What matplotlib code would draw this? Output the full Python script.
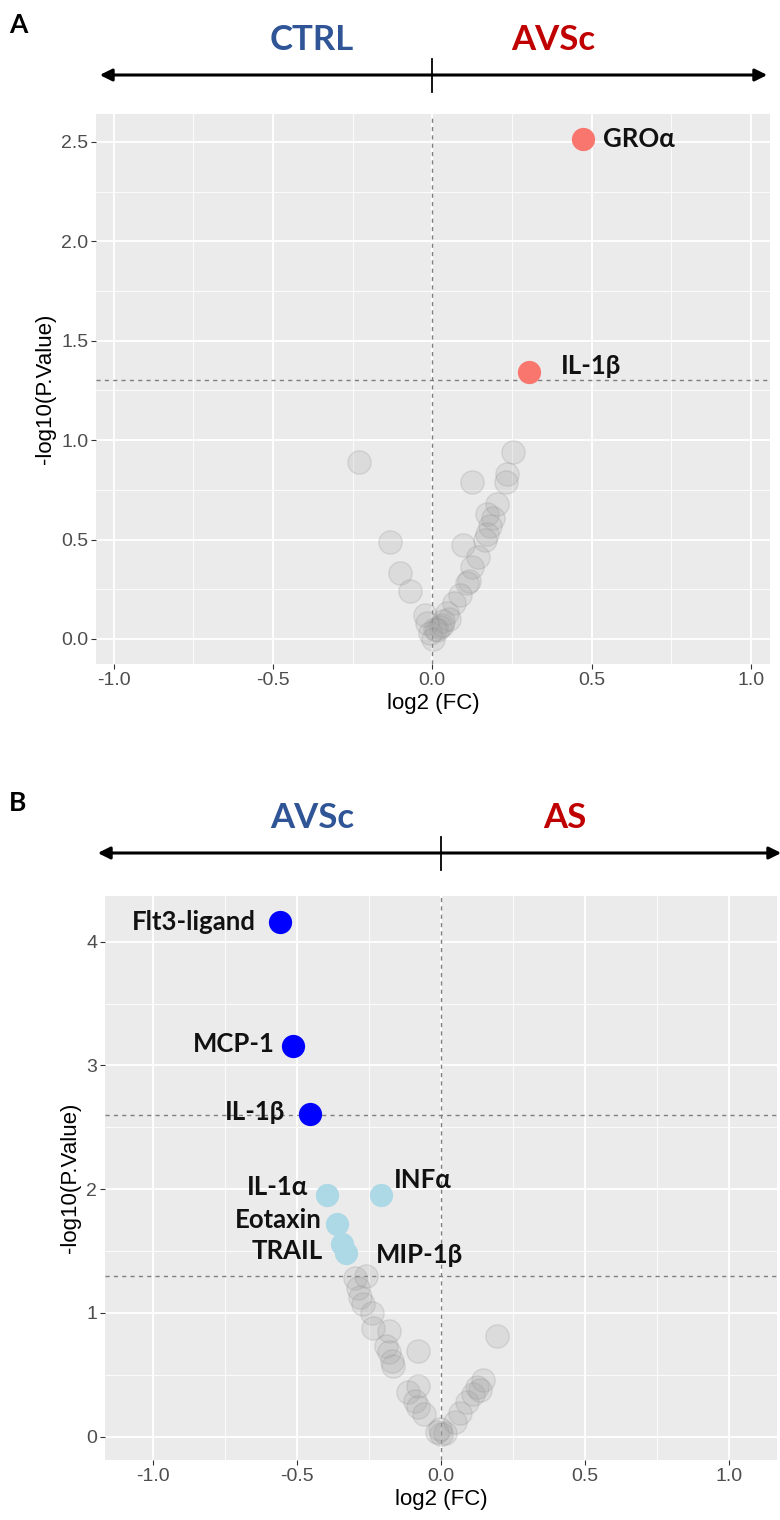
import matplotlib
matplotlib.use("Agg")
from matplotlib import pyplot as plt
from matplotlib.patches import FancyArrowPatch
from matplotlib.lines import Line2D
import numpy as np

# ---- panel A data (CTRL vs AVSc) ----
a_gray_x = [-0.23, 0.255, 0.234, 0.232, 0.126, 0.203, 0.171, 0.192, 0.182, 0.171,
            0.166, -0.132, 0.098, 0.145, 0.124, -0.10, 0.114, 0.109, -0.069, 0.088,
            0.067, -0.022, 0.046, 0.035, 0.025, -0.017, -0.006, 0.004, 0.015, 0.053,
            0.03, 0.01]
a_gray_y = [0.89, 0.94, 0.83, 0.79, 0.79, 0.68, 0.63, 0.61, 0.57, 0.53,
            0.50, 0.49, 0.47, 0.41, 0.36, 0.33, 0.29, 0.28, 0.24, 0.22,
            0.18, 0.12, 0.13, 0.09, 0.06, 0.08, 0.03, 0.00, 0.045, 0.10,
            0.07, 0.05]
a_sig_names = ["GROα", "IL-1β"]
a_sig_x = [0.473, 0.305]
a_sig_y = [2.515, 1.34]

# ---- panel B data (AVSc vs AS) ----
b_strong_names = ["Flt3-ligand", "MCP-1", "IL-1β"]
b_strong_x = [-0.56, -0.515, -0.455]
b_strong_y = [4.16, 3.16, 2.61]
b_weak_names = ["IL-1α", "INFα", "Eotaxin", "TRAIL", "MIP-1β"]
b_weak_x = [-0.395, -0.21, -0.36, -0.345, -0.33]
b_weak_y = [1.95, 1.95, 1.72, 1.56, 1.48]
b_gray_x = [-0.30, -0.26, -0.29, -0.28, -0.27, -0.24, -0.235, -0.18, -0.19, -0.18,
            -0.17, -0.165, -0.08, 0.195, -0.115, -0.08, -0.09, -0.08, -0.06, -0.015,
            0.015, 0.05, 0.065, 0.09, 0.11, 0.125, 0.145, 0.135, 0.0, -0.005]
b_gray_y = [1.28, 1.30, 1.20, 1.13, 1.07, 1.00, 0.88, 0.85, 0.73, 0.68,
            0.61, 0.57, 0.69, 0.81, 0.36, 0.41, 0.29, 0.24, 0.18, 0.04,
            0.03, 0.12, 0.19, 0.28, 0.34, 0.40, 0.46, 0.38, 0.02, 0.06]

W, H = 780, 1520
fig = plt.figure(figsize=(W / 100, H / 100), dpi=100)

tick_font = ["Liberation Sans Narrow", "Liberation Sans", "DejaVu Sans"]
lab_font = ["Lato", "Open Sans", "DejaVu Sans"]


def px(x, y):
    return x / W, 1 - y / H


def style_panel(ax, xlim, ylim, yticks, yminor, ylabels):
    ax.set_facecolor("#EBEBEB")
    ax.set_xlim(*xlim)
    ax.set_ylim(*ylim)
    ax.set_xticks([-1.0, -0.5, 0.0, 0.5, 1.0])
    ax.set_xticklabels(["-1.0", "-0.5", "0.0", "0.5", "1.0"])
    ax.set_xticks([-0.75, -0.25, 0.25, 0.75], minor=True)
    ax.set_yticks(yticks)
    ax.set_yticklabels(ylabels)
    ax.set_yticks(yminor, minor=True)
    ax.grid(which="major", color="white", lw=1.3)
    ax.grid(which="minor", color="white", lw=0.6)
    ax.set_axisbelow(True)
    for s in ax.spines.values():
        s.set_visible(False)
    ax.tick_params(which="major", length=3.5, width=0.8, color="#333333",
                   labelcolor="#4D4D4D", labelsize=14, pad=2)
    ax.tick_params(which="minor", length=0)
    for t in ax.get_xticklabels() + ax.get_yticklabels():
        t.set_family(tick_font)
    ax.set_xlabel("log2 (FC)", family=tick_font, fontsize=16, color="black", labelpad=3)
    ax.set_ylabel("-log10(P.Value)", family=tick_font, fontsize=16, color="black", labelpad=4)
    ax.axvline(0, color="#7F7F7F", lw=1.0, ls=(0, (3, 3)), zorder=1)


def gray_points(ax, x, y):
    ax.scatter(x, y, s=280, facecolor=(0.62, 0.62, 0.62, 0.2),
               edgecolor=(0.55, 0.55, 0.55, 0.22), lw=1, zorder=2)


def label(ax, name, x, y, dx, dy, ha):
    ax.annotate(name, (x, y), xytext=(dx * 0.72, dy * 0.72), textcoords="offset points",
                ha=ha, va="center", fontsize=18.5, fontweight="bold",
                family=lab_font, color="#111111", zorder=5)


def header(y_line, x0, x1, xmid, left, right, xl, xr, y_text):
    arr = FancyArrowPatch(px(x0, y_line), px(x1, y_line), transform=fig.transFigure,
                          arrowstyle="<|-|>", mutation_scale=18, lw=2.2, color="black")
    fig.patches.append(arr)
    fig.lines.append(Line2D([xmid / W, xmid / W], [1 - (y_line - 16) / H, 1 - (y_line + 17) / H],
                            transform=fig.transFigure, color="black", lw=1.3))
    fig.text(*px(xl, y_text), left, ha="center", va="center", fontsize=25,
             fontweight="bold", family=lab_font, color="#2F5597")
    fig.text(*px(xr, y_text), right, ha="center", va="center",
             fontsize=25, fontweight="bold", family=lab_font, color="#C00000")


# ---------------- panel A ----------------
axA = fig.add_axes([96 / W, 1 - 664 / H, (770 - 96) / W, (664 - 114) / H])
style_panel(axA, (-1.055, 1.06), (-0.126, 2.64), [0, 0.5, 1.0, 1.5, 2.0, 2.5],
            [0.25, 0.75, 1.25, 1.75, 2.25],
            ["0.0", "0.5", "1.0", "1.5", "2.0", "2.5"])
axA.axhline(1.3, color="#7F7F7F", lw=1.0, ls=(0, (3, 3)), zorder=1)
gray_points(axA, a_gray_x, a_gray_y)
axA.scatter(a_sig_x, a_sig_y, s=280, color="#F8766D", zorder=3, lw=0)
label(axA, a_sig_names[0], a_sig_x[0], a_sig_y[0], 20, 0, "left")
label(axA, a_sig_names[1], a_sig_x[1], a_sig_y[1], 31, 6, "left")

# ---------------- panel B ----------------
axB = fig.add_axes([105 / W, 1 - 1460 / H, (777 - 105) / W, (1460 - 896) / H])
style_panel(axB, (-1.167, 1.167), (-0.19, 4.37), [0, 1, 2, 3, 4],
            [0.5, 1.5, 2.5, 3.5], ["0", "1", "2", "3", "4"])
axB.axhline(2.6, color="#7F7F7F", lw=1.0, ls=(0, (3, 3)), zorder=1)
axB.axhline(1.3, color="#7F7F7F", lw=1.0, ls=(0, (3, 3)), zorder=1)
gray_points(axB, b_gray_x, b_gray_y)
axB.scatter(b_weak_x, b_weak_y, s=280, color="#ADD8E6", zorder=3, lw=0)
axB.scatter(b_strong_x, b_strong_y, s=280, color="#0000FF", zorder=3, lw=0)

strong_off = [(-24, 0, "right"), (-18, 2, "right"), (-25, 2, "right")]
for n, x, y, o in zip(b_strong_names, b_strong_x, b_strong_y, strong_off):
    label(axB, n, x, y, *o)
weak_off = [(-19, 8, "right"), (13, 15, "left"), (-16, 4, "right"),
            (-19, -7, "right"), (30, -2, "left")]
for n, x, y, o in zip(b_weak_names, b_weak_x, b_weak_y, weak_off):
    label(axB, n, x, y, *o)

# ---------------- headers ----------------
header(75, 97, 770, 432, "CTRL", "AVSc", 312, 553, 40)
header(853, 95, 784, 441, "AVSc", "AS", 312, 565, 818)
fig.text(*px(18, 25), "A", ha="center", va="center", fontsize=19, fontweight="bold", family=lab_font)
fig.text(*px(18, 803), "B", ha="center", va="center", fontsize=19, fontweight="bold", family=lab_font)

fig.savefig("out.png", dpi=100)
